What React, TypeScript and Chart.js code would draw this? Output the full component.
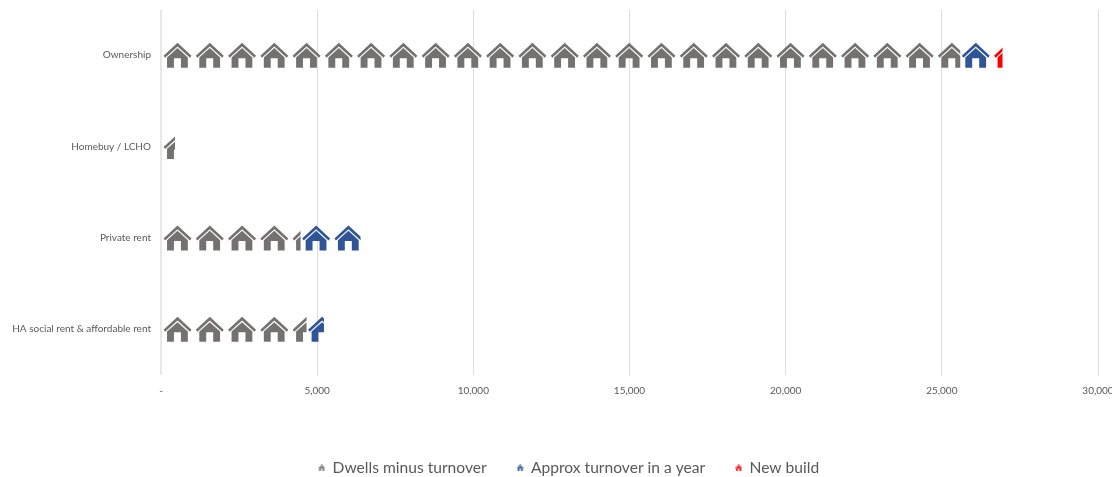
import React, { useEffect, useRef } from "react";
import { Chart, registerables } from "chart.js";

Chart.register(...registerables);

// Housing stock by tenure, in dwellings
const categories = ["Ownership", "Homebuy / LCHO", "Private rent", "HA social rent & affordable rent"];
const dwellsMinusTurnover = [25590, 450, 4470, 4660];
const approxTurnover = [1033, 0, 1920, 560];
const newBuild = [320, 0, 0, 0];
const xTicks = [0, 5000, 10000, 15000, 20000, 25000, 30000];

const seriesNames = ["Dwells minus turnover", "Approx turnover in a year", "New build"];
const seriesColors = ["#767171", "#2F5597", "#FF0000"];

// One house represents this many dwellings
const DWELLINGS_PER_HOUSE = 1033;

// House glyph on a 28 x 25 grid: roof chevron above a body with a door
const HOUSE_W = 28;
const HOUSE_H = 25;
const HOUSE_PATH =
  "M14 0 L28 13 L26.4 15 L14 3.8 L1.6 15 L0 13 Z " +
  "M14 5.4 L24.3 14.8 L24.3 25 L17.4 25 L17.4 15.6 L10.4 15.6 L10.4 25 L3.5 25 L3.5 14.8 Z";

function legendIcon(color: string): HTMLCanvasElement {
  const size = 7;
  const icon = document.createElement("canvas");
  icon.width = size;
  icon.height = size;
  const c = icon.getContext("2d")!;
  c.scale(size / HOUSE_W, size / HOUSE_H);
  c.fillStyle = color;
  c.fill(new Path2D(HOUSE_PATH));
  return icon;
}

// Fills each stacked bar with repeated houses, cut off where the bar ends
const houseTiles = {
  id: "houseTiles",
  afterDatasetsDraw(chart: any) {
    const { ctx, scales } = chart;
    const pitch = scales.x.getPixelForValue(DWELLINGS_PER_HOUSE) - scales.x.getPixelForValue(0);
    const glyph = new Path2D(HOUSE_PATH);
    chart.data.datasets.forEach((dataset: any, di: number) => {
      chart.getDatasetMeta(di).data.forEach((bar: any) => {
        if (bar.x - bar.base < 0.5) return;
        const top = bar.y - HOUSE_H / 2;
        ctx.save();
        ctx.beginPath();
        ctx.rect(bar.base, top - 1, bar.x - bar.base, HOUSE_H + 2);
        ctx.clip();
        ctx.fillStyle = dataset.houseColor;
        for (let left = bar.base; left < bar.x; left += pitch) {
          ctx.save();
          ctx.translate(left + (pitch - HOUSE_W) / 2 - 0.6, top);
          ctx.fill(glyph);
          ctx.restore();
        }
        ctx.restore();
      });
    });
  },
};

// Nudges the legend row into its place below the axis
const legendPlacement = {
  id: "legendPlacement",
  afterLayout(chart: any) {
    chart.legend.left += 20;
    chart.legend.right += 20;
    chart.legend.top += 8.5;
    chart.legend.bottom += 8.5;
  },
};

export default function App() {
  const ref = useRef<HTMLCanvasElement>(null);

  useEffect(() => {
    const values = [dwellsMinusTurnover, approxTurnover, newBuild];
    const chart = new Chart(ref.current!, {
      type: "bar",
      plugins: [houseTiles, legendPlacement],
      data: {
        labels: categories,
        datasets: seriesNames.map((label, i) => ({
          label,
          data: values[i],
          houseColor: seriesColors[i],
          backgroundColor: "rgba(0,0,0,0)",
          barThickness: HOUSE_H,
        })) as any,
      },
      options: {
        indexAxis: "y",
        animation: false,
        responsive: false,
        layout: { padding: { left: 0, right: 14, top: 9.5, bottom: 0 } },
        scales: {
          x: {
            type: "linear",
            stacked: true,
            min: 0,
            max: 30000,
            afterBuildTicks: (scale: any) => {
              scale.ticks = xTicks.map((value) => ({ value }));
            },
            afterFit: (scale: any) => {
              scale.paddingRight = 0;
              scale.paddingLeft = 0;
              scale.height = 46;
            },
            grid: {
              color: (c: any) => (c.index === 0 ? "#E8E8E8" : "#DDDDDD"),
              lineWidth: (c: any) => (c.index === 0 ? 2 : 1),
              drawTicks: false,
            },
            border: { display: false },
            ticks: {
              autoSkip: false,
              maxRotation: 0,
              padding: 10,
              color: "#595959",
              font: { family: "Lato", size: 10 },
              callback: (v: any) => (v === 0 ? "-" : Number(v).toLocaleString("en-GB")),
            },
          },
          y: {
            stacked: true,
            afterFit: (scale: any) => {
              scale.width = 161;
              scale.paddingTop = 0;
              scale.paddingBottom = 0;
            },
            grid: { display: false },
            border: { display: false },
            ticks: {
              padding: 2,
              color: "#595959",
              font: { family: "Lato", size: 10 },
            },
          },
        },
        plugins: {
          tooltip: { enabled: false },
          legend: {
            position: "bottom",
            labels: {
              usePointStyle: true,
              pointStyleWidth: 6,
              padding: 30.5,
              color: "#595959",
              font: { family: "Lato", size: 15.6 },
              generateLabels: (c: any) =>
                Chart.defaults.plugins.legend.labels.generateLabels(c).map((item: any, i: number) => ({
                  ...item,
                  pointStyle: legendIcon(seriesColors[i]),
                })),
            },
          },
        },
      },
    } as any);
    return () => chart.destroy();
  }, []);

  return (
    <div style={{ position: "fixed", left: 0, top: 0, width: 1112, height: 477, background: "#fff" }}>
      <canvas ref={ref} width={1112} height={477} style={{ display: "block" }} />
    </div>
  );
}
